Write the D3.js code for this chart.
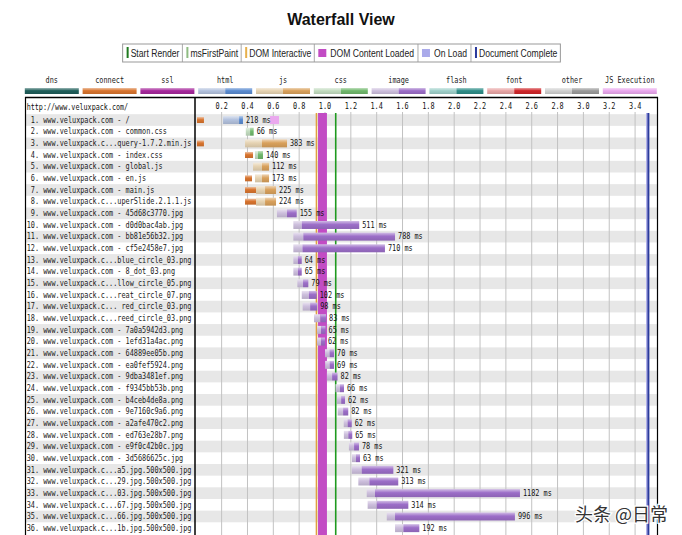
<!DOCTYPE html>
<html><head><meta charset="utf-8">
<script src="https://cdn.jsdelivr.net/npm/d3@7"></script>
<style>body{margin:0;background:#fff}svg{display:block}</style>
</head><body><svg id="c" width="682" height="535"></svg>
<script>
const pageUrl = "http://www.veluxpack.com/";
const requestNames = [
"www.veluxpack.com - /","www.veluxpack.com - common.css","www.veluxpack.c...query-1.7.2.min.js",
"www.veluxpack.com - index.css","www.veluxpack.com - global.js","www.veluxpack.com - en.js",
"www.veluxpack.com - main.js","www.veluxpack.c...uperSlide.2.1.1.js","www.veluxpack.com - 45d68c3770.jpg",
"www.veluxpack.com - d0d0bac4ab.jpg","www.veluxpack.com - bb81e56b32.jpg","www.veluxpack.com - cf5e2458e7.jpg",
"www.veluxpack.c...blue_circle_03.png","www.veluxpack.com - 8_dot_03.png","www.veluxpack.c...llow_circle_05.png",
"www.veluxpack.c...reat_circle_07.png","www.veluxpack.c... red_circle_03.png","www.veluxpack.c...reed_circle_03.png",
"www.veluxpack.com - 7a0a5942d3.png","www.veluxpack.com - 1efd31a4ac.png","www.veluxpack.com - 64889ee05b.png",
"www.veluxpack.com - ea0fef5924.png","www.veluxpack.com - 9dba3481ef.png","www.veluxpack.com - f9345bb53b.png",
"www.veluxpack.com - b4ceb4de8a.png","www.veluxpack.com - 9e7160c9a6.png","www.veluxpack.com - a2afe470c2.png",
"www.veluxpack.com - ed763e28b7.png","www.veluxpack.com - e9f0c42b0c.jpg","www.veluxpack.com - 3d5686625c.jpg",
"www.veluxpack.c...a5.jpg.500x500.jpg","www.veluxpack.c...29.jpg.500x500.jpg","www.veluxpack.c...03.jpg.500x500.jpg",
"www.veluxpack.c...67.jpg.500x500.jpg","www.veluxpack.c...66.jpg.500x500.jpg","www.veluxpack.c...1b.jpg.500x500.jpg"];
const requestTypes = ["html","css","js","css","js","js","js","js",
"image","image","image","image","image","image","image","image","image","image",
"image","image","image","image","image","image","image","image","image","image","image","image",
"image","image","image","image","image","image"];
const connectTimes = [[0.009,0.063],null,[0.009,0.063],[0.381,0.443],null,[0.381,0.435],[0.381,0.466],[0.381,0.466],
null,null,null,null,null,null,null,null,null,null,null,null,null,null,null,null,null,null,null,null,null,null,null,null,null,null,null,null];
const waitStarts = [0.211,0.387,0.381,0.458,0.443,0.458,0.466,0.466,0.628,0.755,0.755,0.755,0.755,0.755,0.786,0.820,0.827,0.915,
0.939,0.938,1.000,1.001,1.015,1.081,1.093,1.098,1.145,1.146,1.185,1.208,1.207,1.258,1.323,1.330,1.478,1.542];
const downloadStarts = [0.335,0.420,0.512,0.481,0.512,0.512,0.536,0.536,0.706,0.820,0.832,0.825,0.790,0.790,0.830,0.875,0.885,0.965,
0.970,0.970,1.035,1.035,1.055,1.115,1.125,1.140,1.175,1.180,1.225,1.240,1.284,1.343,1.387,1.400,1.542,1.606];
const downloadEnds = [0.365,0.448,0.706,0.520,0.567,0.567,0.621,0.621,0.781,1.265,1.542,1.464,0.820,0.820,0.871,0.936,0.940,1.008,
1.004,1.000,1.070,1.070,1.097,1.147,1.155,1.180,1.207,1.211,1.263,1.271,1.529,1.567,2.509,1.645,2.470,1.730];
const durations = [218,66,383,140,112,173,225,224,155,511,788,710,64,65,79,102,98,83,
65,62,70,69,82,66,62,82,62,65,78,63,321,313,1182,314,996,192];
const jsExecTimes = [[0.574,0.644],null,null,null,null,null,null,null];
const timeTicks = [0.2,0.4,0.6,0.8,1.0,1.2,1.4,1.6,1.8,2.0,2.2,2.4,2.6,2.8,3.0,3.2,3.4];
const eventNames = ["Start Render","msFirstPaint","DOM Interactive","DOM Content Loaded","On Load","Document Complete"];
const eventStarts = [1.083,1.083,0.934,0.946,3.485,3.503];
const eventEnds   = [1.083,1.083,0.934,1.015,3.497,3.503];
const legendTypes = ["dns","connect","ssl","html","js","css","image","flash","font","other","JS Execution"];

// styling
const eventColors = {"Start Render":"#1f7a1f","msFirstPaint":"#8fbc83","DOM Interactive":"#e6b04c",
  "DOM Content Loaded":"#c24cc4","On Load":"#aaaaea","Document Complete":"#2b3a9c"};
const eventLineColors = {"Start Render":"#1f9a1f","DOM Interactive":"#e0a040","Document Complete":"#2b3a9c"};
const eventIsBox = {"DOM Content Loaded":true,"On Load":true};
const typeColors = {
  dns:["#1f5e5a"], connect:["#d8742e"], ssl:["#a6289c"], "JS Execution":["#eaa8ee"],
  html:["#b3c2de","#5a8bd0"], js:["#e6d3b2","#d9a15c"], css:["#c3dcc0","#70b86c"],
  image:["#cdbfdd","#9c6ec8"], flash:["#9fd0ca","#2e8d88"], font:["#e8a6a6","#cf262a"], other:["#d0d0d0","#9b9b9b"]
};
const mono = "'DejaVu Sans Mono', monospace";
const charW = 4.12;

const svg = d3.select("#c");
const defs = svg.append("defs");
let gid = 0; const gradCache = {};
function grad(color){
  if (gradCache[color]) return gradCache[color];
  const id = "g" + (gid++);
  const c = d3.color(color);
  const g = defs.append("linearGradient").attr("id", id).attr("x1",0).attr("y1",0).attr("x2",0).attr("y2",1);
  g.append("stop").attr("offset","0%").attr("stop-color", d3.interpolateRgb(color,"#fff")(0.55));
  g.append("stop").attr("offset","45%").attr("stop-color", color);
  g.append("stop").attr("offset","100%").attr("stop-color", c.darker(0.3).formatHex());
  gradCache[color] = `url(#${id})`;
  return gradCache[color];
}

// Title
svg.append("text").attr("x",341).attr("y",25).attr("text-anchor","middle")
  .attr("font-family","'Liberation Sans', Arial, sans-serif").attr("font-weight","bold").attr("font-size",16)
  .attr("fill","#111").text("Waterfall View");

// Event legend box
const lg = svg.append("g");
const cells = [];
eventNames.forEach(n => {
  const t = lg.append("text").attr("font-family","'Liberation Sans', Arial, sans-serif").attr("font-size",10)
    .attr("fill","#222").attr("y",57).text(n);
  const L = t.node().getComputedTextLength()*0.86;
  t.attr("textLength",L).attr("lengthAdjust","spacingAndGlyphs");
  const box = !!eventIsBox[n];
  const w = box ? 4+8+4+L+4 : 4+2+2+L+3;
  cells.push({n,t,L,box,w});
});
const totalW = d3.sum(cells, c=>c.w);
let cx = 341.5 - totalW/2;
const boxX0 = cx;
cells.forEach((c,i) => {
  if (c.box) {
    lg.append("rect").attr("x",cx+4).attr("y",49).attr("width",8).attr("height",8).attr("fill",eventColors[c.n]);
    c.t.attr("x",cx+16);
  } else {
    lg.append("rect").attr("x",cx+4).attr("y",47).attr("width",2).attr("height",11).attr("fill",eventColors[c.n]);
    c.t.attr("x",cx+8);
  }
  cx += c.w;
  if (i < cells.length-1) lg.append("line").attr("x1",cx).attr("x2",cx).attr("y1",44).attr("y2",62).attr("stroke","#aaa");
});
lg.append("rect").attr("x",boxX0).attr("y",44).attr("width",totalW).attr("height",18).attr("fill","none").attr("stroke","#999");

// Type legend
const tl = svg.append("g");
legendTypes.forEach((t,i) => {
  const x = 24.8 + i*57.8, w = 54;
  tl.append("text").attr("x",x+w/2).attr("y",83).attr("text-anchor","middle").attr("font-family",mono)
    .attr("font-size",8).attr("fill","#222").attr("textLength",t.length*charW).attr("lengthAdjust","spacingAndGlyphs").text(t);
  const cols = typeColors[t];
  if (cols.length === 1) {
    tl.append("rect").attr("x",x).attr("y",88).attr("width",w).attr("height",6).attr("fill",grad(cols[0]));
  } else {
    tl.append("rect").attr("x",x).attr("y",88).attr("width",w/2).attr("height",6).attr("fill",grad(cols[0]));
    tl.append("rect").attr("x",x+w/2).attr("y",88).attr("width",w/2).attr("height",6).attr("fill",grad(cols[1]));
  }
});

// Table
const x = d3.scaleLinear().domain([0,3.5]).range([195.8, 195.8+3.5*129.2]);
const y = d3.scaleBand().domain(d3.range(requestNames.length)).range([114.2, 114.2+requestNames.length*11.66]);
const bh = 8;

const tbl = svg.append("g");
tbl.selectAll("rect.shade").data(d3.range(requestNames.length).filter(i=>i%2===0)).join("rect")
  .attr("x",26).attr("width",631).attr("y",i=>y(i)).attr("height",y.bandwidth()).attr("fill","#e7e7e7");
tbl.selectAll("line.grid").data(timeTicks).join("line")
  .attr("x1",d=>x(d)).attr("x2",d=>x(d)).attr("y1",112).attr("y2",535).attr("stroke","#c2c2c2").attr("stroke-width",1);
tbl.selectAll("text.tick").data(timeTicks).join("text")
  .attr("x",d=>x(d)).attr("y",109).attr("text-anchor","middle").attr("font-family",mono).attr("font-size",8)
  .attr("fill","#111").attr("textLength",3*charW).attr("lengthAdjust","spacingAndGlyphs").text(d=>d.toFixed(1));
tbl.append("text").attr("x",26.7).attr("y",110).attr("font-family",mono).attr("font-size",8).attr("fill","#111")
  .attr("textLength",pageUrl.length*4.06).attr("lengthAdjust","spacingAndGlyphs").text(pageUrl);

// event lines
eventNames.forEach((n,i) => {
  if (n === "msFirstPaint") return;
  const s = eventStarts[i], e = eventEnds[i];
  if (eventIsBox[n]) {
    tbl.append("rect").attr("x",x(s)).attr("width",Math.max(1.5,x(e)-x(s))).attr("y",113).attr("height",422).attr("fill",eventColors[n]);
  } else {
    tbl.append("line").attr("x1",x(s)).attr("x2",x(s)).attr("y1",113).attr("y2",535)
      .attr("stroke",eventLineColors[n]).attr("stroke-width", n==="Document Complete"?2:1.6);
  }
});

// requests
requestNames.forEach((name,i) => {
  const yt = y(i) + (y.bandwidth()-bh)/2, yc = y(i)+y.bandwidth()/2;
  const cols = typeColors[requestTypes[i]];
  const c = connectTimes[i];
  if (c) tbl.append("rect").attr("x",x(c[0])).attr("width",x(c[1])-x(c[0])).attr("y",yt+1).attr("height",bh-2).attr("fill",grad(typeColors.connect[0]));
  tbl.append("rect").attr("x",x(waitStarts[i])).attr("width",x(downloadStarts[i])-x(waitStarts[i])).attr("y",yt).attr("height",bh).attr("fill",grad(cols[0]));
  tbl.append("rect").attr("x",x(downloadStarts[i])).attr("width",x(downloadEnds[i])-x(downloadStarts[i])).attr("y",yt).attr("height",bh).attr("fill",grad(cols[1]));
  const j = jsExecTimes[i];
  if (j) tbl.append("rect").attr("x",x(j[0])).attr("width",x(j[1])-x(j[0])).attr("y",yt).attr("height",bh).attr("fill",typeColors["JS Execution"][0]);
  const lbl = durations[i] + " ms";
  tbl.append("text").attr("x",x(downloadEnds[i])+3).attr("y",yc+2.8).attr("font-family",mono).attr("font-size",8)
    .attr("fill","#111").attr("textLength",lbl.length*charW).attr("lengthAdjust","spacingAndGlyphs").text(lbl);
  const rl = (i+1) + ". " + name;
  tbl.append("text").attr("x",26.7 + (i<9?charW:0)).attr("y",yc+2.8).attr("font-family",mono).attr("font-size",8)
    .attr("fill","#1a1a1a").attr("textLength",rl.length*charW).attr("lengthAdjust","spacingAndGlyphs").text(rl);
});

// borders
svg.append("line").attr("x1",25).attr("x2",658).attr("y1",97.5).attr("y2",97.5).attr("stroke","#000").attr("stroke-width",1.5);
svg.append("line").attr("x1",25.5).attr("x2",25.5).attr("y1",97).attr("y2",535).attr("stroke","#000").attr("stroke-width",1.2);
svg.append("line").attr("x1",195).attr("x2",195).attr("y1",97).attr("y2",535).attr("stroke","#000").attr("stroke-width",1.5);
svg.append("line").attr("x1",657.5).attr("x2",657.5).attr("y1",97).attr("y2",535).attr("stroke","#000").attr("stroke-width",1.2);

// watermark
svg.append("text").attr("x",575).attr("y",521).attr("font-family","'Noto Sans CJK SC', sans-serif").attr("font-size",18)
  .attr("fill","#333").attr("stroke","#fff").attr("stroke-width",2.5).attr("paint-order","stroke").text("头条 @日常");
</script></body></html>
